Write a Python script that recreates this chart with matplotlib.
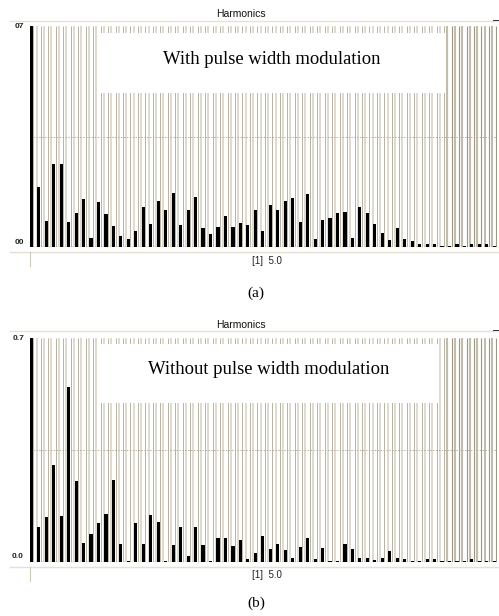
import matplotlib
matplotlib.use('Agg')
import matplotlib.pyplot as plt
from matplotlib.patches import Rectangle

W, H = 499, 616

harmonics = list(range(1, 64))
with_pwm = [1.0, 0.19, 0.083, 0.263, 0.263, 0.078, 0.108, 0.153, 0.029, 0.141,
            0.105, 0.068, 0.035, 0.026, 0.052, 0.127, 0.074, 0.145, 0.117, 0.17,
            0.071, 0.117, 0.159, 0.059, 0.04, 0.062, 0.099, 0.062, 0.077, 0.071,
            0.117, 0.051, 0.132, 0.117, 0.145, 0.156, 0.078, 0.169, 0.024, 0.087,
            0.093, 0.109, 0.112, 0.029, 0.127, 0.108, 0.074, 0.044, 0.023, 0.059,
            0.026, 0.02, 0.01, 0.01, 0.008, 0.004, 0.004, 0.008, 0.004, 0.01,
            0.01, 0.008, 0.004]
without_pwm = [1.0, 0.108, 0.142, 0.302, 0.144, 0.546, 0.252, 0.059, 0.086, 0.123,
               0.151, 0.255, 0.055, 0.003, 0.121, 0.055, 0.147, 0.126, 0.003, 0.052,
               0.108, 0.019, 0.108, 0.052, 0.003, 0.075, 0.075, 0.049, 0.069, 0.009,
               0.027, 0.082, 0.04, 0.057, 0.036, 0.014, 0.048, 0.075, 0.009, 0.043,
               0.003, 0.003, 0.057, 0.04, 0.011, 0.011, 0.007, 0.011, 0.033, 0.011,
               0.008, 0.003, 0.003, 0.008, 0.008, 0.003, 0.003, 0.003, 0.003, 0.008,
               0.003, 0.003, 0.003]
y_top_label = ["07", "0.7"]
y_bot_label = ["00", "0.0"]
panel_titles = ["Harmonics", "Harmonics"]
box_texts = ["With pulse width modulation", "Without pulse width modulation"]
x_label = "[1]  5.0"
captions = ["(a)", "(b)"]

fig = plt.figure(figsize=(W / 100, H / 100), dpi=100)
fig.patch.set_facecolor('white')

# overlay axes in pixel coordinates
ov = fig.add_axes([0, 0, 1, 1], zorder=10)
ov.set_xlim(0, W)
ov.set_ylim(H, 0)
ov.axis('off')
ov.patch.set_visible(False)

SANS = 'Liberation Sans'
SERIF = 'Liberation Serif'

panels = [
    dict(vals=with_pwm, top=26, base=247, title_y=14, sep_y=21, axis_y=252,
         box=(100, 33, 445, 93), text_xy=(272, 59), ylab_top=27, ylab_bot=242,
         cap_y=293),
    dict(vals=without_pwm, top=338, base=562, title_y=325, sep_y=331, axis_y=567,
         box=(100, 344, 438, 403), text_xy=(269, 369), ylab_top=339, ylab_bot=557,
         cap_y=603),
]

left_px, right_px = 30, 497
bar1_px, spacing = 31.3, 7.468
xmin = 1 - (bar1_px - left_px) / spacing
xmax = 1 + (right_px - bar1_px) / spacing

for k, p in enumerate(panels):
    ax = fig.add_axes([left_px / W, 1 - p['base'] / H,
                       (right_px - left_px) / W, (p['base'] - p['top']) / H], zorder=1)
    ax.set_xlim(xmin, xmax)
    ax.set_ylim(0, 0.7)
    ax.axis('off')
    for h in harmonics:
        if h >= 57:
            ax.vlines(h - 0.3, 0, 0.7, color='#c2bcaa', lw=1.5, zorder=1)
            ax.vlines(h + 0.28, 0, 0.7, color='#9d9682', lw=0.8, zorder=1)
        else:
            ax.vlines(h - 0.3, 0, 0.7, color='#dcd8cb', lw=1.3, zorder=1)
            ax.vlines(h + 0.28, 0, 0.7, color='#aca693', lw=0.6, zorder=1)
    ax.axhline(0.35, color='#b4ae9c', lw=0.7, ls=(0, (1.5, 1.5)), zorder=2)
    ax.axhline(0.0, color='black', lw=0.9, ls=(0, (1, 2)), zorder=2)
    ax.bar(harmonics, p['vals'], width=0.42, color='black', zorder=3)

    # header
    ov.text(241, p['title_y'], panel_titles[k], fontsize=7.5, family=SANS,
            ha='center', va='center', color='#111111')
    ov.plot([10, 497], [p['sep_y'], p['sep_y']], color='#e6e2d4', lw=1.0)
    ov.plot([493, 498], [p['sep_y'] - 1, p['sep_y'] - 1], color='#333333', lw=0.7)
    # box
    x0, y0, x1, y1 = p['box']
    ov.add_patch(Rectangle((x0, y0), x1 - x0, y1 - y0, facecolor='white',
                           edgecolor='none', zorder=5))
    ov.text(p['text_xy'][0], p['text_xy'][1], box_texts[k], fontsize=13.4,
            family=SERIF, ha='center', va='center', zorder=6)
    # y labels
    ov.text(24, p['ylab_top'], y_top_label[k], fontsize=6, family=SANS,
            fontweight='bold', ha='right', va='center', color='#222222')
    ov.text(24, p['ylab_bot'], y_bot_label[k], fontsize=6, family=SANS,
            fontweight='bold', ha='right', va='center', color='#222222')
    # x axis
    ov.plot([10, 499], [p['axis_y'], p['axis_y']], color='#e4e0d2', lw=1.0)
    ov.plot([30, 30], [p['axis_y'], p['axis_y'] + 14], color='#cfcab8', lw=0.8)
    ov.text(252, p['axis_y'] + 8.5, x_label, fontsize=7, family=SANS,
            ha='left', va='center', color='#222222')
    # caption
    ov.text(256, p['cap_y'], captions[k], fontsize=11, family=SERIF,
            ha='center', va='center')

fig.savefig('out.png', dpi=100, facecolor='white')
